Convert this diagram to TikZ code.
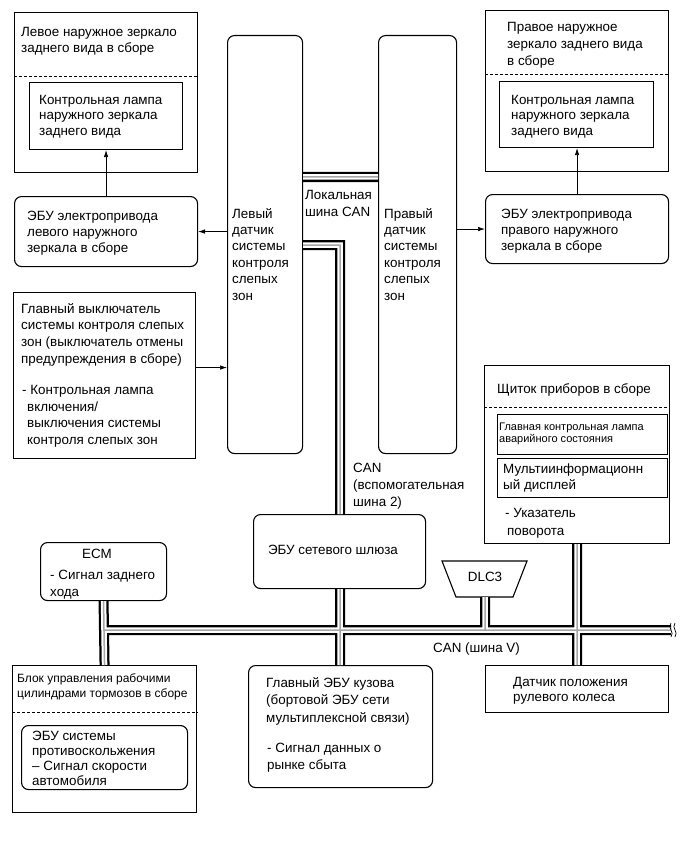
\documentclass[tikz,border=0pt]{standalone}
\usepackage{fontspec}
\setmainfont{Liberation Sans}
\usetikzlibrary{arrows.meta,calc}
\newcommand{\fs}[2]{\fontsize{#1}{#2}\selectfont}
\begin{document}
\begin{tikzpicture}[x=1pt,y=-1pt,
  sq/.style={draw, line width=1.1pt, fill=white, inner sep=0pt, anchor=north west},
  rd/.style={sq, rounded corners=7pt},
  txt/.style={anchor=north west, align=left, inner sep=0pt, font=\fs{13.4}{16.5}},
  arr/.style={line width=0.7pt, -{Latex[length=7pt,width=4.5pt]}},
  dsh/.style={line width=1pt, dash pattern=on 3pt off 2pt}]
\useasboundingbox (0,0) rectangle (690,853);
% ---------------- boxes
\node[sq, minimum width=183, minimum height=160] (LM) at (14,12) {};
\node[sq, minimum width=153, minimum height=67] (LMi) at (29,82) {};
\node[rd, minimum width=183, minimum height=70] (LE) at (14,196) {};
\node[rd, minimum width=75, minimum height=418] (LS) at (227,35) {};
\node[rd, minimum width=78, minimum height=418] (RS) at (378,35) {};
\node[sq, minimum width=183, minimum height=161] (RM) at (485,10) {};
\node[sq, minimum width=154, minimum height=66] (RMi) at (499,81) {};
\node[rd, minimum width=183, minimum height=69] (RE) at (485,194) {};
\node[sq, minimum width=182, minimum height=166] (SW) at (13,292) {};
\node[sq, minimum width=185, minimum height=178] (CL) at (484,365) {};
\node[sq, minimum width=170, minimum height=40] (CLa) at (497,414) {};
\node[sq, minimum width=170, minimum height=39] (CLb) at (497,458) {};
\node[rd, minimum width=172, minimum height=74] (GW) at (253,514) {};
\node[rd, minimum width=126, minimum height=58] (ECM) at (40,542) {};
\node[sq, minimum width=184, minimum height=147] (BR) at (12,665) {};
\node[rd, minimum width=166, minimum height=64] (BRi) at (21,725) {};
\node[rd, minimum width=184, minimum height=122] (BE) at (248,665) {};
\node[sq, minimum width=183, minimum height=47] (ST) at (485,665) {};
\draw[line width=1.1pt, fill=white] (442,561) -- (527,561) -- (513,597) -- (456,597) -- cycle;
\node[inner sep=0pt, font=\fs{13.4}{16}] (DLC) at (485,577) {DLC3};
\coordinate (DLCb) at (485,597);
% dashed separators
\draw[dsh] (LM.west |- 0,77) -- (LM.east |- 0,77);
\draw[dsh] (RM.west |- 0,75) -- (RM.east |- 0,75);
\draw[dsh] (CL.west |- 0,407) -- (CL.east |- 0,407);
\draw[dsh] (BR.west |- 0,712) -- (BR.east |- 0,712);
% ---------------- buses
\coordinate (busL) at (103,630);
\coordinate (busR) at (671,630);
\coordinate (auxC) at (340,245);
\foreach \w/\c in {10/black, 5.5/white, 1.5/gray!70} {
  \draw[line width=\w pt, \c, line join=miter]
    (LS.east |- 0,177) -- (RS.west |- 0,177)
    (LS.east |- auxC) -- (auxC) -- (auxC |- GW.north)
    (auxC |- GW.south) -- (auxC |- BE.north)
    (busL) -- (busR)
    (ECM.south) -- (BR.north)
    (DLCb) -- (DLCb |- busL)
    (CL.south) -- (ST.north);
}
% break mark at right end
\draw[line width=0.7pt] (671,623) .. controls (667,628) and (675,632) .. (671,637);
\draw[line width=0.7pt] (675,623) .. controls (671,628) and (679,632) .. (675,637);
% ---------------- arrows
\draw[arr] (LE.north) -- (LE.north |- LMi.south);
\draw[arr] (RE.north) -- (RE.north |- RMi.south);
\draw[arr] (LS.west |- LE.east) -- (LE.east);
\draw[arr] (RS.east |- RE.west) -- (RE.west);
\draw[arr] ([yshift=8pt]SW.east) -- ([yshift=8pt]SW.east -| LS.west);
% ---------------- texts
\node[txt, font=\fs{13.4}{16}] (tLM) at (21,27) {Левое наружное зеркало\\заднего вида в сборе};
\node[txt, font=\fs{13.4}{15.5}] (tLMi) at (39,95) {Контрольная лампа\\наружного зеркала\\заднего вида};
\node[txt, font=\fs{13.4}{15.8}] (tLE) at (27,211) {ЭБУ электропривода\\левого наружного\\зеркала в сборе};
\node[txt, font=\fs{13.4}{16.4}] (tLS) at (232,208) {Левый\\датчик\\системы\\контроля\\слепых\\зон};
\node[txt, font=\fs{13.4}{16.4}] (tRS) at (384,208) {Правый\\датчик\\системы\\контроля\\слепых\\зон};
\node[txt, font=\fs{13.4}{17}] (tLoc) at (305,190) {Локальная\\шина CAN};
\node[txt, font=\fs{13.4}{17}] (tRM) at (507,22) {Правое наружное\\зеркало заднего вида\\в сборе};
\node[txt, font=\fs{13.4}{15.5}] (tRMi) at (511,95) {Контрольная лампа\\наружного зеркала\\заднего вида};
\node[txt, font=\fs{13.4}{16}] (tRE) at (501,209) {ЭБУ электропривода\\правого наружного\\зеркала в сборе};
\node[txt, font=\fs{13.4}{16.7}] (tSW) at (21,303) {Главный выключатель\\системы контроля слепых\\зон (выключатель отмены\\предупреждения в сборе)};
\node[txt, font=\fs{13.4}{16.7}] (tSW2) at (27,385) {\hspace*{-5pt}- Контрольная лампа\\включения/\\выключения системы\\контроля слепых зон};
\node[txt, font=\fs{13.4}{17}] (tAux) at (353,463) {CAN\\(вспомогательная\\шина 2)};
\node[inner sep=0pt, font=\fs{13.4}{16}] (tGW) at (333,550) {ЭБУ сетевого шлюза};
\node[inner sep=0pt, font=\fs{13.4}{16}] (tECM) at (97,554) {ECM};
\node[txt, font=\fs{13.4}{17}] (tECM2) at (50,570) {- Сигнал заднего\\хода};
\node[txt, font=\fs{13.4}{16}] (tCANV) at (433,643) {CAN (шина V)};
\node[txt, font=\fs{13.4}{16}] (tCL) at (497,383) {Щиток приборов в сборе};
\node[txt, font=\fs{11}{12}] (tCLa) at (499,423) {Главная контрольная лампа\\аварийного состояния};
\node[txt, font=\fs{13.4}{16}] (tCLb) at (503,464) {Мультиинформационн\\ый дисплей};
\node[txt, font=\fs{13.4}{18}] (tCLc) at (505,508) {- Указатель\\\hspace*{2pt}поворота};
\node[txt, font=\fs{12}{15}] (tBR) at (17,673) {Блок управления рабочими\\цилиндрами тормозов в сборе};
\node[txt, font=\fs{13.4}{15}] (tBRi) at (32,731) {ЭБУ системы\\противоскольжения\\– Сигнал скорости\\автомобиля};
\node[txt, font=\fs{13.4}{17.5}] (tBE) at (266,677) {Главный ЭБУ кузова\\(бортовой ЭБУ сети\\мультиплексной связи)};
\node[txt, font=\fs{13.4}{17}] (tBE2) at (267,743) {- Сигнал данных о\\рынке сбыта};
\node[txt, font=\fs{13.4}{15}] (tST) at (513,677) {Датчик положения\\рулевого колеса};
\end{tikzpicture}
\end{document}
